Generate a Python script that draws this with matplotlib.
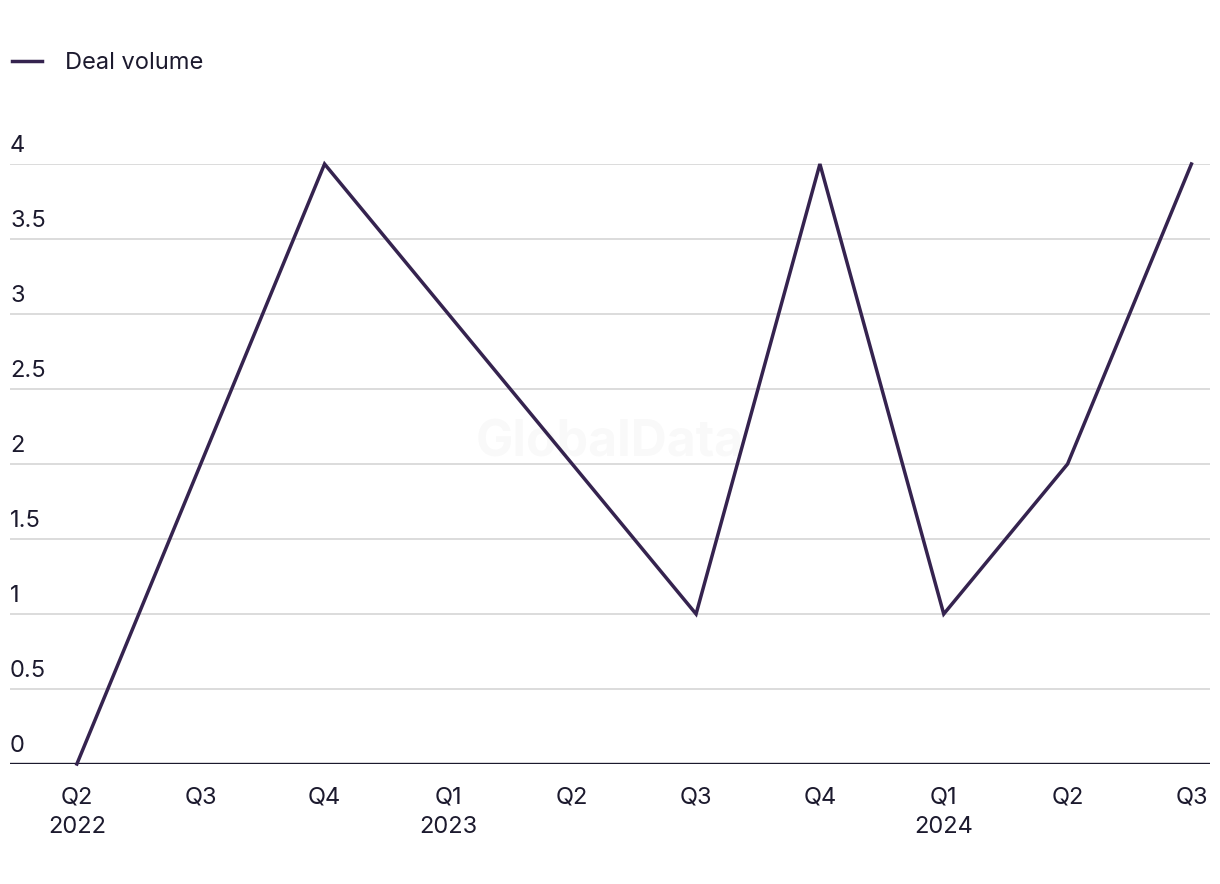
import matplotlib
matplotlib.use("Agg")
import matplotlib.pyplot as plt

quarters = ["Q2\n2022", "Q3", "Q4", "Q1\n2023", "Q2", "Q3", "Q4", "Q1\n2024", "Q2", "Q3"]
deal_volume = [0, 2, 4, 3, 2, 1, 4, 1, 2, 4]
y_ticks = [0, 0.5, 1, 1.5, 2, 2.5, 3, 3.5, 4]

line_color = "#35234f"
text_color = "#1c1a2e"
grid_color = "#d9d9d9"
fs = 17

plt.rcParams["font.family"] = ["Inter", "DejaVu Sans"]

fig = plt.figure(figsize=(12.2, 8.84), dpi=100)
ax = fig.add_axes([10 / 1220, 120 / 884, 1200 / 1220, 600 / 884])

x = list(range(len(quarters)))
ax.plot(x, deal_volume, color=line_color, lw=2.5, label="Deal volume",
        clip_on=False, zorder=3, solid_joinstyle="miter")

ax.set_xlim(-0.54, len(quarters) - 1 + 0.15)
ax.set_ylim(0, 4)

# gridlines + labels sitting above each line
for t in y_ticks:
    if t == 0:
        ax.axhline(t, color=text_color, lw=1.7, zorder=2)
    else:
        ax.axhline(t, color=grid_color, lw=1.3, zorder=1)
    ax.annotate(f"{t:g}", xy=(0, t), xycoords=("axes fraction", "data"),
                xytext=(0, 5), textcoords="offset points",
                ha="left", va="bottom", fontsize=fs, color=text_color)

ax.set_yticks([])
ax.set_xticks(x)
ax.set_xticklabels(quarters, fontsize=fs, color=text_color, linespacing=1.45)
ax.tick_params(axis="x", length=0, pad=16)
for s in ax.spines.values():
    s.set_visible(False)

# watermark
ax.text(0.5, 0.535, "GlobalData", transform=ax.transAxes, ha="center", va="center",
        fontsize=36, fontweight="bold", color="#000000", alpha=0.025, zorder=4)

fig.legend(loc="upper left", bbox_to_anchor=(0.0095, 0.941), frameon=False,
           fontsize=fs, labelcolor=text_color, handlelength=1.3,
           handletextpad=0.95, borderaxespad=0.0, borderpad=0.0)

fig.savefig("out.png", dpi=100)
